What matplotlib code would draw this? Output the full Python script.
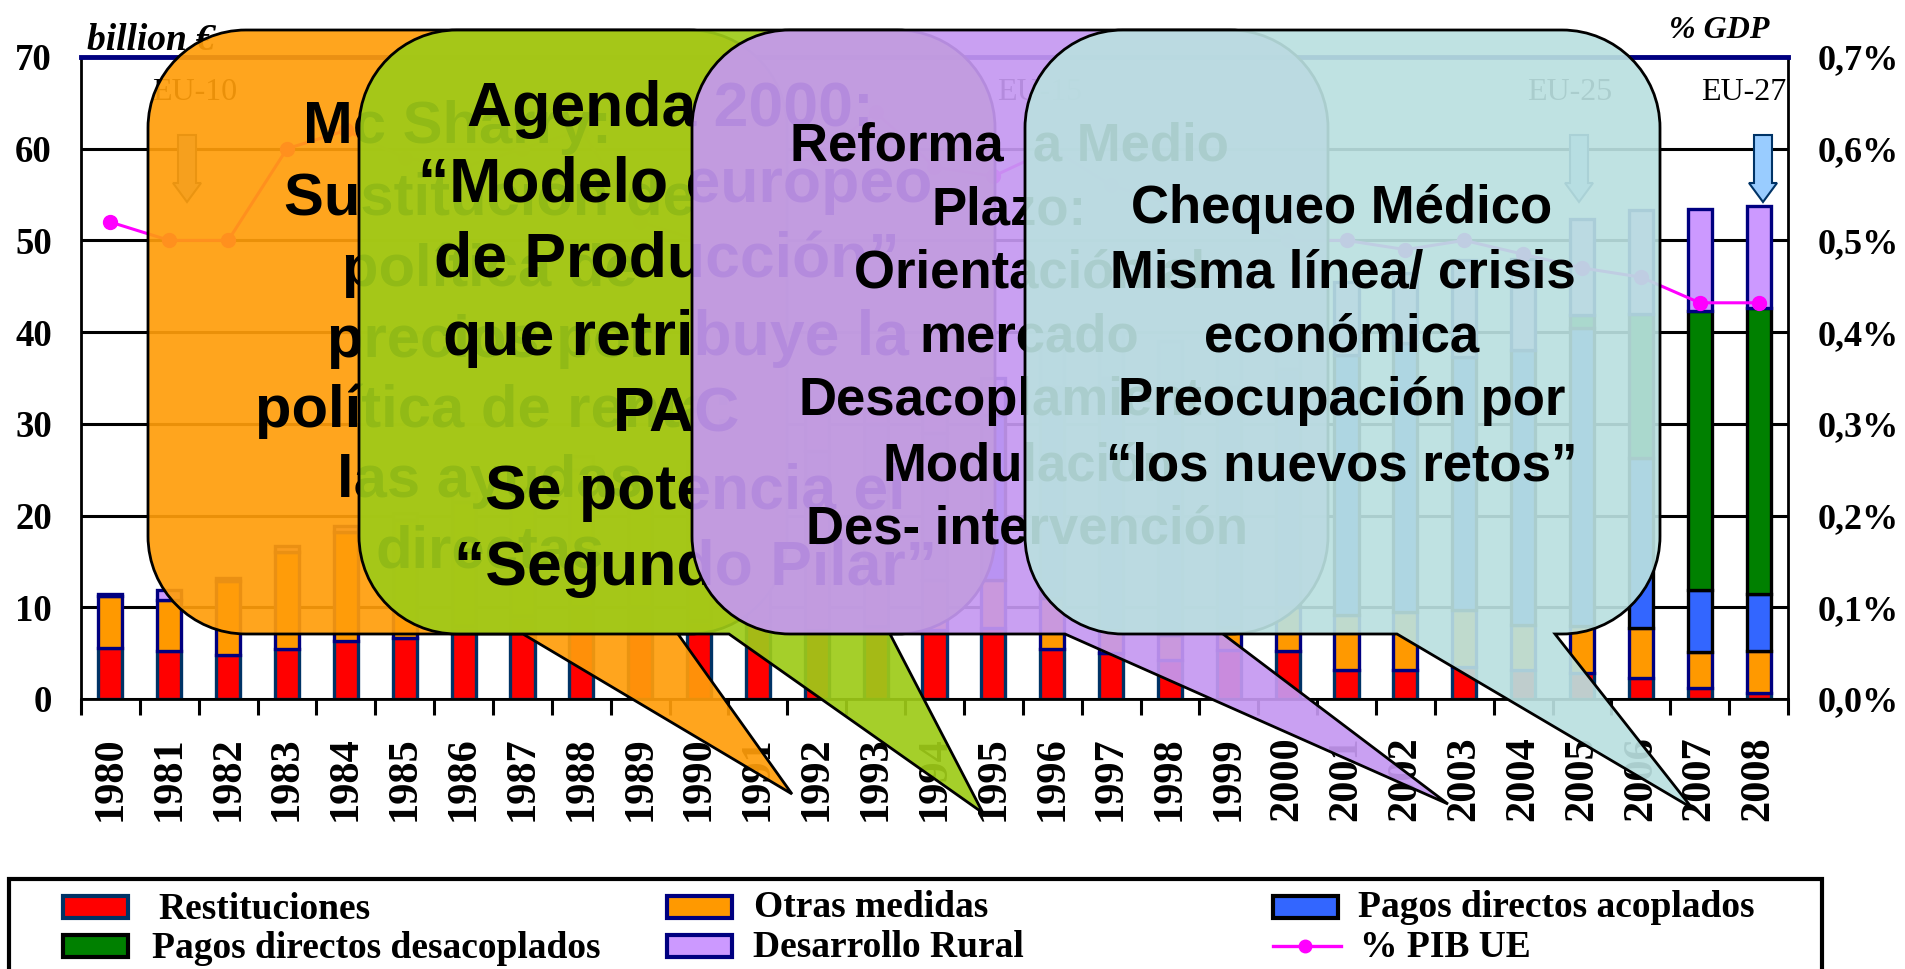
import numpy as np
import matplotlib
matplotlib.use('Agg')
import matplotlib.pyplot as plt
from matplotlib.path import Path
from matplotlib.patches import PathPatch, Rectangle, Polygon
from matplotlib.colors import to_rgba

years = list(range(1980, 2009))
restituciones = [5.6, 5.2, 4.8, 5.4, 6.3, 6.7, 8, 9, 10, 10, 8.5, 8.5, 7.5, 8, 7.5, 7.7, 5.5, 5, 4.2, 5.3, 5.2, 3.2, 3.2, 3.5, 3.2, 2.8, 2.3, 1.2, 0.65]
otras = [5.6, 5.6, 8.1, 10.6, 11.9, 12.8, 13.5, 13, 15, 13, 15.5, 19.5, 16.5, 12, 5.5, 5.3, 5.5, 2.5, 2.8, 2.6, 4.8, 6, 6.3, 6.2, 4.9, 5.2, 5.4, 3.9, 4.55]
acoplados = [0, 0, 0, 0, 0, 0, 0, 0, 0, 0, 0, 0, 3, 10, 16, 18, 23, 27.5, 27.5, 26.1, 26, 28.3, 29.3, 27.6, 29.9, 32.4, 18.6, 6.8, 6.2]
desacoplados = [0, 0, 0, 0, 0, 0, 0, 0, 0, 0, 0, 0, 0, 0, 0, 0, 0, 0, 0, 0, 0, 0, 0, 0, 0, 1.5, 15.7, 30.4, 31.2]
rural = [0.2, 1.1, 0.3, 0.7, 0.7, 0.8, 1, 1, 1.5, 1.5, 2, 3, 4, 3.5, 4, 4, 5, 5, 4.5, 4.5, 5, 8, 7.6, 10.6, 10, 10.4, 11.3, 11.1, 11.2]
pib = [0.52, 0.50, 0.50, 0.60, 0.62, 0.59, 0.58, 0.60, 0.62, 0.52, 0.50, 0.58, 0.59, 0.64, 0.58, 0.57, 0.60, 0.56, 0.54, 0.53, 0.50, 0.50, 0.49, 0.50, 0.485, 0.47, 0.46, 0.432, 0.432]

left_ticks = [0, 10, 20, 30, 40, 50, 60, 70]
right_ticks = [0, 0.1, 0.2, 0.3, 0.4, 0.5, 0.6, 0.7]
right_labels = ['0,0%', '0,1%', '0,2%', '0,3%', '0,4%', '0,5%', '0,6%', '0,7%']

SERIF = 'Liberation Serif'
SANS = 'Liberation Sans'
W, H = 1906, 969
ALPHA = 0.92

fig = plt.figure(figsize=(W / 100, H / 100), dpi=100)
ax = fig.add_axes([81 / W, 1 - 699 / H, 1707 / W, 642 / H])

# stacked bars
x = np.arange(len(years))
stack = [(restituciones, '#FF0000', '#003366'),
         (otras, '#FF9900', '#000080'),
         (acoplados, '#3366FF', '#000000'),
         (desacoplados, '#008000', '#000000'),
         (rural, '#CC99FF', '#000080')]
bottom = np.zeros(len(years))
for vals, col, edge in stack:
    vals = np.array(vals, dtype=float)
    m = vals > 0
    ax.bar(x[m], vals[m], 0.41, bottom=bottom[m], color=col, edgecolor=edge, linewidth=2.4)
    bottom += vals

ax.set_xlim(-0.5, len(years) - 0.5)
ax.set_ylim(0, 70)
ax.set_yticks(left_ticks)
ax.set_axisbelow(True)
ax.yaxis.grid(True, color='black', linewidth=2.2)
ax.tick_params(axis='y', length=0, pad=21)
for lab in ax.get_yticklabels():
    lab.set_fontfamily(SERIF)
    lab.set_fontweight('bold')
    lab.set_fontsize(26.5)

ax.set_xticks(np.append(-0.5, x + 0.5), minor=False)
ax.set_xticklabels([])
ax.set_xticks(x, minor=True)
ax.set_xticklabels(years, minor=True, rotation=90, fontfamily=SERIF, fontweight='bold', fontsize=30.5)
ax.tick_params(axis='x', which='major', length=11.5, width=2.2)
ax.tick_params(axis='x', which='minor', length=0, pad=27)

ax.spines['top'].set_color('#000080')
ax.spines['top'].set_linewidth(3.5)
for side in ['left', 'right', 'bottom']:
    ax.spines[side].set_linewidth(2)

ax2 = ax.twinx()
ax2.set_ylim(0, 0.7)
ax2.plot(x, pib, color='#FF00FF', linewidth=2.2, marker='o', markersize=10)
ax2.set_yticks(right_ticks)
ax2.set_yticklabels(right_labels, fontfamily=SERIF, fontweight='bold', fontsize=26)
ax2.tick_params(axis='y', length=0, pad=21)
for s in ax2.spines.values():
    s.set_visible(False)

# everything else is placed in reference pixels
ov = fig.add_axes([0, 0, 1, 1], facecolor='none')
ov.set_xlim(0, W)
ov.set_ylim(H, 0)
ov.axis('off')

ov.text(87, 50, 'billion €', family=SERIF, style='italic', weight='bold', fontsize=27, zorder=2)
ov.text(1769, 38, '% GDP', family=SERIF, style='italic', weight='bold', fontsize=23, ha='right', zorder=2)
for txt, px in [('EU-10', 152), ('EU-15', 997), ('EU-25', 1527), ('EU-27', 1701)]:
    ov.text(px, 100, txt, family=SERIF, fontsize=23, zorder=2)

for cx in [187, 1579, 1763]:
    pts = [(cx - 9, 135), (cx + 9, 135), (cx + 9, 183), (cx + 14, 183), (cx, 202), (cx - 14, 183), (cx - 9, 183)]
    ov.add_patch(Polygon(pts, closed=True, facecolor='#99CCFF', edgecolor='#003366', linewidth=1.5, zorder=2))


def callout(x0, x1, y0, y1, r, tail, color, z):
    k = 0.5523 * r
    bl, tip, br = tail
    verts = [(x0, y0 + r),
             (x0, y0 + r - k), (x0 + r - k, y0), (x0 + r, y0),
             (x1 - r, y0),
             (x1 - r + k, y0), (x1, y0 + r - k), (x1, y0 + r),
             (x1, y1 - r),
             (x1, y1 - r + k), (x1 - r + k, y1), (x1 - r, y1),
             (br, y1), tip, (bl, y1),
             (x0 + r, y1),
             (x0 + r - k, y1), (x0, y1 - r + k), (x0, y1 - r),
             (x0, y0 + r)]
    codes = [Path.MOVETO] + [Path.CURVE4] * 3 + [Path.LINETO] + [Path.CURVE4] * 3 + [Path.LINETO] + [Path.CURVE4] * 3 + \
            [Path.LINETO] * 4 + [Path.CURVE4] * 3 + [Path.CLOSEPOLY]
    ov.add_patch(PathPatch(Path(verts, codes), facecolor=to_rgba(color, ALPHA), edgecolor='black', linewidth=2, zorder=z))


def lines_text(lines, size, z):
    for txt, cx, base in lines:
        ov.text(cx, base, txt, family=SANS, weight='bold', fontsize=size, ha='center', va='baseline', color='black', zorder=z)


# orange
callout(148, 787, 30, 634, 98, (523, (792, 794), 678), '#FF9D0A', 10)
lines_text([('Mc Sharry:', 457, 143), ('Sustitución de', 490, 215), ('política de', 490, 286),
            ('precios por', 490, 357), ('política de renta:', 494, 427), ('las ayudas', 490, 497),
            ('directas', 490, 567)], 43, 11)
# green
callout(359, 995, 30, 634, 98, (729, (983, 813), 890), '#9ECB18', 12)
lines_text([('Agenda 2000:', 670, 126), ('“Modelo europeo', 675, 202), ('de Producción”', 667, 278),
            ('que retribuye la', 676, 355), ('PAC', 677, 432), ('Se potencia el', 695, 509),
            ('“Segundo Pilar”', 696, 585)], 45, 13)
# purple
callout(692, 1328, 30, 634, 98, (1065, (1448, 804), 1223), '#C598F1', 14)
lines_text([('Reforma  a Medio', 1009, 160), ('Plazo:', 1009, 224), ('Orientación al', 1030, 288),
            ('mercado', 1029, 351), ('Desacoplamiento', 1017, 415), ('Modulación', 1029, 480),
            ('Des- intervención', 1027, 543)], 38, 15)
# teal
callout(1025, 1660, 30, 634, 98, (1397, (1692, 808), 1555), '#BAE0E0', 16)
lines_text([('Chequeo Médico', 1342, 223), ('Misma línea/ crisis', 1343, 288), ('económica', 1342, 352),
            ('Preocupación por', 1342, 415), ('“los nuevos retos”', 1342, 480)], 38, 17)

# legend
ov.add_patch(Rectangle((9, 879), 1813, 100, facecolor='white', edgecolor='black', linewidth=3, zorder=3))
swatches = [(63, 907, '#FF0000', '#003366'), (63, 946, '#008000', '#000000'),
            (667, 907, '#FF9900', '#000080'), (667, 946, '#CC99FF', '#000080'),
            (1273, 907, '#3366FF', '#000000')]
for sx, sy, col, edge in swatches:
    ov.add_patch(Rectangle((sx, sy - 11), 65, 22, facecolor=col, edgecolor=edge, linewidth=3, zorder=4))
ov.plot([1273, 1341], [946, 946], color='#FF00FF', linewidth=2.4, zorder=4)
ov.plot([1305], [946], color='#FF00FF', marker='o', markersize=9, zorder=4)
legend_labels = [('Restituciones', 158, 919), ('Pagos directos desacoplados', 152, 958),
                 ('Otras medidas', 754, 917), ('Desarrollo Rural', 753, 957),
                 ('Pagos directos acoplados', 1358, 917), ('% PIB UE', 1360, 957)]
for txt, tx, ty in legend_labels:
    ov.text(tx, ty, txt, family=SERIF, weight='bold', fontsize=27, zorder=4)

fig.savefig('out.png', dpi=100)
